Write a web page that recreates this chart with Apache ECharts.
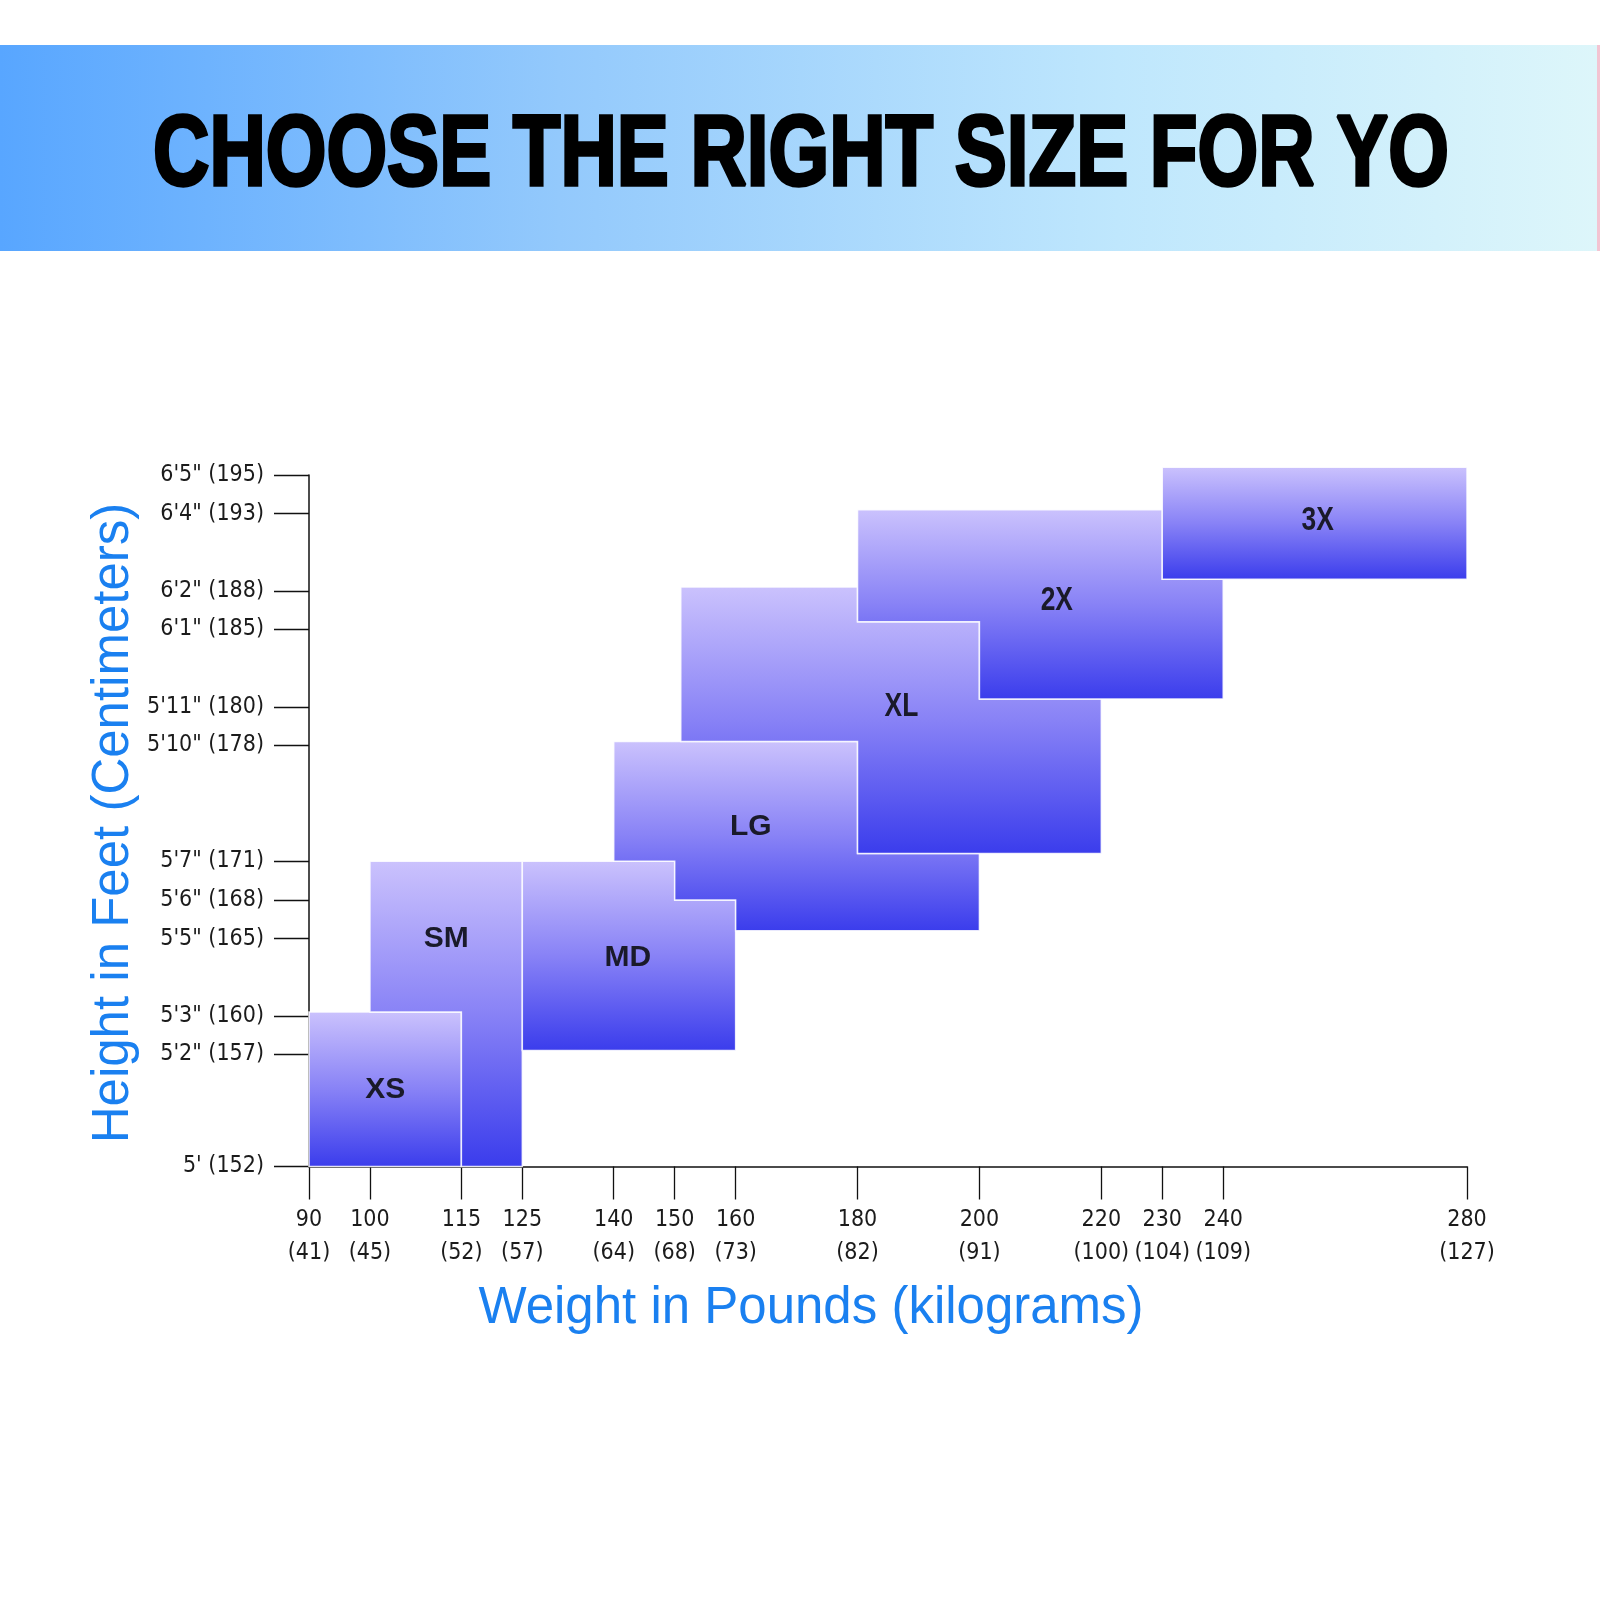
<!DOCTYPE html>
<html>
<head>
<meta charset="utf-8">
<script src="https://cdn.jsdelivr.net/npm/echarts@6/dist/echarts.min.js"></script>
<style>
  html, body { margin: 0; padding: 0; background: #ffffff; }
  #chart { width: 1600px; height: 1600px; }
</style>
</head>
<body>
<div id="chart"></div>
<script>
// ---------------- DATA ----------------
const headerText = 'CHOOSE THE RIGHT SIZE FOR YO';
const xTitle = 'Weight in Pounds (kilograms)';
const yTitle = 'Height in Feet (Centimeters)';

// weight axis (pounds) and kg labels
const weightTicks = [90, 100, 115, 125, 140, 150, 160, 180, 200, 220, 230, 240, 280];
const weightKg    = [41, 45, 52, 57, 64, 68, 73, 82, 91, 100, 104, 109, 127];

// height axis (inches); the 5' tick sits on the axis floor of the chart
const heightFloor = 59.1;
const heightTicks  = [heightFloor, 62, 63, 65, 66, 67, 70, 71, 73, 74, 76, 77];
const heightLabels = ["5' (152)", "5'2\" (157)", "5'3\" (160)", "5'5\" (165)", "5'6\" (168)",
                      "5'7\" (171)", "5'10\" (178)", "5'11\" (180)", "6'1\" (185)",
                      "6'2\" (188)", "6'4\" (193)", "6'5\" (195)"];

// size regions: outline vertices [pounds, inches]
const sizeNames = ['XS', 'SM', 'MD', 'LG', 'XL', '2X', '3X'];
const xsShape = [[90, heightFloor], [90, 63.1], [115, 63.1], [115, heightFloor]];
const smShape = [[100, 67], [125, 67], [125, heightFloor], [115, heightFloor], [115, 63.1], [100, 63.1]];
const mdShape = [[125, 67], [150, 67], [150, 66], [160, 66], [160, 62.1], [125, 62.1]];
const lgShape = [[140, 70.1], [180, 70.1], [180, 67.2], [200, 67.2], [200, 65.2], [160, 65.2],
                 [160, 66], [150, 66], [150, 67], [140, 67]];
const xlShape = [[151, 74.1], [180, 74.1], [180, 73.2], [200, 73.2], [200, 71.2], [220, 71.2],
                 [220, 67.2], [180, 67.2], [180, 70.1], [151, 70.1]];
const x2Shape = [[180, 76.1], [230, 76.1], [230, 74.3], [240, 74.3], [240, 71.2], [200, 71.2],
                 [200, 73.2], [180, 73.2]];
const x3Shape = [[230, 77.2], [280, 77.2], [280, 74.3], [230, 74.3]];
const sizeShapes = [xsShape, smShape, mdShape, lgShape, xlShape, x2Shape, x3Shape];
// label anchor of each size [pounds, inches]
const sizeLabelAt = [[102.5, 61.1], [112.5, 65.0], [142.3, 64.5], [162.5, 67.9],
                     [187.2, 71.0], [212.7, 73.75], [255.5, 75.8]];

// ---------------- CHART ----------------
const chart = echarts.init(document.getElementById('chart'), null, { renderer: 'canvas' });
const tickFont = "'Liberation Sans Narrow', 'DejaVu Sans Condensed', 'Liberation Sans', sans-serif";
const sansFont = "'Liberation Sans', Arial, sans-serif";

function boxGradient() {
  return new echarts.graphic.LinearGradient(0, 0, 0, 1, [
    { offset: 0, color: '#cbc2fd' },
    { offset: 0.5, color: '#8882f6' },
    { offset: 1, color: '#3a3cec' }
  ]);
}

const option = {
  backgroundColor: '#ffffff',
  animation: false,
  grid: { left: 309, right: 133, top: 475, bottom: 433.5, containLabel: false },
  xAxis: {
    type: 'value', min: 90, max: 280,
    splitLine: { show: false },
    axisLine: { show: true, lineStyle: { color: '#111', width: 1.5 } },
    axisTick: { show: true, customValues: weightTicks, length: 33, lineStyle: { color: '#111', width: 1.3 } },
    axisLabel: {
      customValues: weightTicks, margin: 37,
      fontFamily: tickFont, fontSize: 23, lineHeight: 33, color: '#1b1b1b',
      formatter: function (v) {
        const i = weightTicks.findIndex(t => Math.abs(t - v) < 1e-6);
        return i < 0 ? '' : weightTicks[i] + '\n(' + weightKg[i] + ')';
      }
    }
  },
  yAxis: {
    type: 'value', min: heightFloor, max: 77,
    splitLine: { show: false },
    axisLine: { show: true, lineStyle: { color: '#111', width: 1.5 } },
    axisTick: { show: true, customValues: heightTicks, length: 35, lineStyle: { color: '#111', width: 1.3 } },
    axisLabel: {
      customValues: heightTicks, margin: 45,
      fontFamily: tickFont, fontSize: 23, color: '#1b1b1b',
      formatter: function (v) {
        const i = heightTicks.findIndex(t => Math.abs(t - v) < 1e-6);
        return i < 0 ? '' : heightLabels[i];
      }
    }
  },
  series: [{
    type: 'custom',
    clip: false,
    data: sizeNames.map((n, i) => [sizeLabelAt[i][0], sizeLabelAt[i][1], i]),
    encode: { x: 0, y: 1 },
    renderItem: function (params, api) {
      const i = api.value(2);
      const pts = sizeShapes[i].map(p => api.coord(p));
      const lp = api.coord(sizeLabelAt[i]);
      const narrow = i >= 4;
      return {
        type: 'group',
        children: [
          {
            type: 'polygon',
            shape: { points: pts },
            style: { fill: boxGradient(), stroke: 'rgba(255,255,255,0.85)', lineWidth: 1.5 }
          },
          {
            type: 'text',
            x: lp[0], y: lp[1], scaleX: narrow ? 0.8 : 1,
            style: {
              text: sizeNames[i], x: 0, y: 0, align: 'center', verticalAlign: 'middle',
              fill: '#1a1a2a', fontFamily: sansFont,
              fontWeight: 'bold', fontSize: narrow ? 33 : 30
            }
          }
        ]
      };
    }
  }],
  graphic: [
    {
      type: 'rect', silent: true, z: -1,
      shape: { x: 0, y: 45, width: 1597, height: 206 },
      style: {
        fill: new echarts.graphic.LinearGradient(0, 0, 1, 0, [
          { offset: 0, color: '#58a6ff' },
          { offset: 0.35, color: '#93c9fc' },
          { offset: 0.7, color: '#bfe7fd' },
          { offset: 1, color: '#ddf6fa' }
        ])
      }
    },
    {
      type: 'rect', silent: true,
      shape: { x: 1597, y: 45, width: 3, height: 206 },
      style: { fill: '#f3c4d2' }
    },
    {
      type: 'text', silent: true,
      x: 801, y: 157, scaleX: 0.78,
      style: {
        text: headerText, x: 0, y: 0, align: 'center', verticalAlign: 'middle',
        fontFamily: sansFont, fontWeight: 'bold', fontSize: 100,
        fill: '#000', stroke: '#000', lineWidth: 3.5
      }
    },
    {
      type: 'text', silent: true,
      x: 811, y: 1309,
      style: {
        text: xTitle, x: 0, y: 0, align: 'center', verticalAlign: 'middle',
        fontFamily: sansFont, fontSize: 51, fill: '#1a80f0'
      }
    },
    {
      type: 'text', silent: true,
      x: 114, y: 823, rotation: Math.PI / 2,
      style: {
        text: yTitle, x: 0, y: 0, align: 'center', verticalAlign: 'middle',
        fontFamily: sansFont, fontSize: 51, fill: '#1a80f0'
      }
    }
  ]
};
chart.setOption(option);
</script>
</body>
</html>
